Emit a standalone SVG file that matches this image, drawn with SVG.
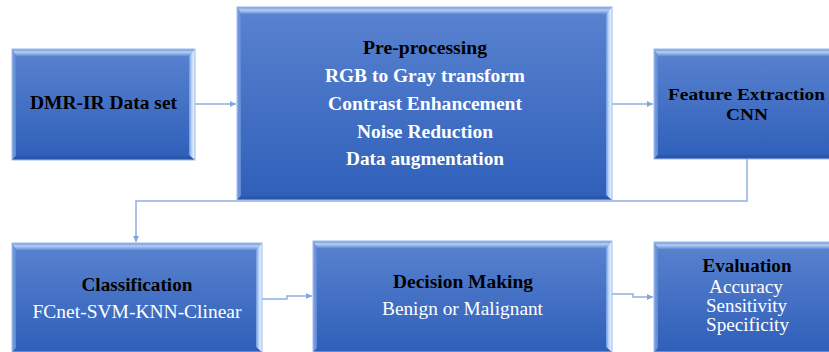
<svg xmlns="http://www.w3.org/2000/svg" width="829" height="352" viewBox="0 0 829 352">
  <defs>
    <linearGradient id="fill" x1="0" y1="0" x2="0" y2="1">
      <stop offset="0" stop-color="#5a83d0"/>
      <stop offset="1" stop-color="#2e5fb9"/>
    </linearGradient>
    <linearGradient id="bevTop" x1="0" y1="0" x2="0" y2="1">
      <stop offset="0" stop-color="#6f95da"/>
      <stop offset="0.45" stop-color="#b3cff5"/>
      <stop offset="1" stop-color="#628ad4"/>
    </linearGradient>
    <linearGradient id="bevLeft" x1="0" y1="0" x2="1" y2="0">
      <stop offset="0" stop-color="#7fa3e2"/>
      <stop offset="1" stop-color="#5f87d2"/>
    </linearGradient>
    <linearGradient id="bevRight" x1="0" y1="0" x2="1" y2="0">
      <stop offset="0" stop-color="#6d97e0"/>
      <stop offset="0.5" stop-color="#c4dcfa"/>
      <stop offset="1" stop-color="#eef5ff"/>
    </linearGradient>
    <marker id="arrow" markerUnits="userSpaceOnUse" markerWidth="7" markerHeight="7" refX="6" refY="3" orient="auto">
      <path d="M0,0 L6,3 L0,6 z" fill="#7fa4de"/>
    </marker>
    <style>
      .body { fill: url(#fill); }
      .top { fill: url(#bevTop); }
      .left { fill: url(#bevLeft); }
      .right { fill: url(#bevRight); }
      .bottom { fill: #2a57ab; }
      .edge { fill: none; stroke: #9dbbe8; stroke-width: 1; }
      .link { fill: none; stroke: #8eb0e3; stroke-width: 1.5; marker-end: url(#arrow); }
      text { font-family: "Liberation Serif", "Times New Roman", serif; font-size: 18px; text-anchor: middle; }
      .head { font-weight: bold; fill: #000; }
      .bw { font-weight: bold; fill: #fff; }
      .rw { fill: #fff; }
      .tight { font-size: 17px; }
    </style>
  </defs>

  <!-- connectors -->
  <g id="connectors">
    <path class="link" d="M195,104 H236"/>
    <path class="link" d="M612,104 H653"/>
    <path class="link" d="M747,159 V201 H136 V242"/>
    <path class="link" d="M262,299 H287 V296 H312"/>
    <path class="link" d="M612,294 H633 V297 H653"/>
  </g>

  <!-- DMR-IR Data set: x=12 y=49 w=183 h=111 -->
  <g id="dataset">
    <rect class="body" x="12" y="49" width="183" height="111"/>
    <polygon class="top" points="12,49 195,49 189,56 16,56"/>
    <polygon class="left" points="12,49 16,56 16,156 12,160"/>
    <polygon class="right" points="195,49 195,160 189,155 189,56"/>
    <polygon class="bottom" points="12,160 16,156 189,156 195,160"/>
    <rect class="edge" x="12" y="49" width="183" height="111"/>
    <text class="head" x="103.5" y="109" textLength="147" lengthAdjust="spacingAndGlyphs">DMR-IR Data set</text>
  </g>

  <!-- Pre-processing: x=237 y=7 w=375 h=193 -->
  <g id="preprocessing">
    <rect class="body" x="237" y="7" width="375" height="193"/>
    <polygon class="top" points="237,7 612,7 606,14 241,14"/>
    <polygon class="left" points="237,7 241,14 241,196 237,200"/>
    <polygon class="right" points="612,7 612,200 606,195 606,14"/>
    <polygon class="bottom" points="237,200 241,196 606,196 612,200"/>
    <rect class="edge" x="237" y="7" width="375" height="193"/>
    <text class="head" x="425" y="54" textLength="124" lengthAdjust="spacingAndGlyphs">Pre-processing</text>
    <text class="bw" x="425" y="82" textLength="200" lengthAdjust="spacingAndGlyphs">RGB to Gray transform</text>
    <text class="bw" x="425" y="110" textLength="194" lengthAdjust="spacingAndGlyphs">Contrast Enhancement</text>
    <text class="bw" x="425" y="138" textLength="136" lengthAdjust="spacingAndGlyphs">Noise Reduction</text>
    <text class="bw" x="425" y="165" textLength="158" lengthAdjust="spacingAndGlyphs">Data augmentation</text>
  </g>

  <!-- Feature Extraction: x=654 y=49 w=186 h=110 -->
  <g id="feature">
    <rect class="body" x="654" y="49" width="186" height="110"/>
    <polygon class="top" points="654,49 840,49 834,56 658,56"/>
    <polygon class="left" points="654,49 658,56 658,155 654,159"/>
    <polygon class="bottom" points="654,159 658,155 834,155 840,159"/>
    <rect class="edge" x="654" y="49" width="186" height="110"/>
    <text class="head tight" x="746.5" y="100" textLength="157" lengthAdjust="spacingAndGlyphs">Feature Extraction</text>
    <text class="head tight" x="747" y="120" textLength="42" lengthAdjust="spacingAndGlyphs">CNN</text>
  </g>

  <!-- Classification: x=12 y=243 w=250 h=109 -->
  <g id="classification">
    <rect class="body" x="12" y="243" width="250" height="109"/>
    <polygon class="top" points="12,243 262,243 256,250 16,250"/>
    <polygon class="left" points="12,243 16,250 16,348 12,352"/>
    <polygon class="right" points="262,243 262,352 256,347 256,250"/>
    <rect class="edge" x="12" y="243" width="250" height="109"/>
    <text class="head" x="137" y="291" textLength="111" lengthAdjust="spacingAndGlyphs">Classification</text>
    <text class="rw" x="137" y="318" textLength="209" lengthAdjust="spacingAndGlyphs">FCnet-SVM-KNN-Clinear</text>
  </g>

  <!-- Decision Making: x=313 y=241 w=299 h=111 -->
  <g id="decision">
    <rect class="body" x="313" y="241" width="299" height="111"/>
    <polygon class="top" points="313,241 612,241 606,248 317,248"/>
    <polygon class="left" points="313,241 317,248 317,348 313,352"/>
    <polygon class="right" points="612,241 612,352 606,347 606,248"/>
    <rect class="edge" x="313" y="241" width="299" height="111"/>
    <text class="head" x="463" y="288" textLength="140" lengthAdjust="spacingAndGlyphs">Decision Making</text>
    <text class="rw" x="462.5" y="315" textLength="161" lengthAdjust="spacingAndGlyphs">Benign or Malignant</text>
  </g>

  <!-- Evaluation: x=654 y=242 w=186 h=110 -->
  <g id="evaluation">
    <rect class="body" x="654" y="242" width="186" height="110"/>
    <polygon class="top" points="654,242 840,242 834,249 658,249"/>
    <polygon class="left" points="654,242 658,249 658,348 654,352"/>
    <rect class="edge" x="654" y="242" width="186" height="110"/>
    <text class="head" x="747" y="272" textLength="89" lengthAdjust="spacingAndGlyphs">Evaluation</text>
    <text class="rw" x="746" y="293" textLength="74" lengthAdjust="spacingAndGlyphs">Accuracy</text>
    <text class="rw" x="746.5" y="312" textLength="81" lengthAdjust="spacingAndGlyphs">Sensitivity</text>
    <text class="rw" x="747.5" y="331" textLength="83" lengthAdjust="spacingAndGlyphs">Specificity</text>
  </g>
</svg>
